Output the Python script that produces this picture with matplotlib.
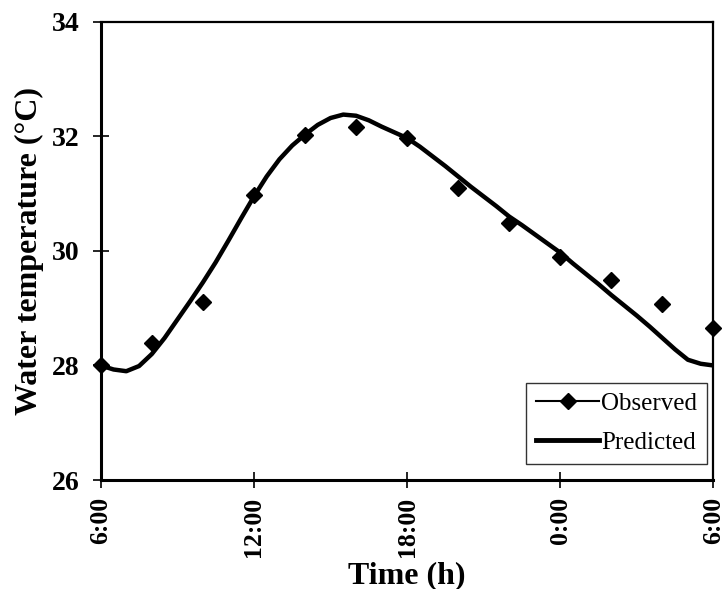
#!/usr/bin/env python3
"""Diurnal water temperature: observed vs predicted over 24 h."""

import matplotlib
matplotlib.use('Agg')
import matplotlib.pyplot as plt
from matplotlib.lines import Line2D

plt.rcParams['font.family'] = 'Liberation Serif'
plt.rcParams['mathtext.fontset'] = 'stix'

# Hours elapsed since 6:00
OBS_HOURS = [0, 2, 4, 6, 8, 10, 12, 14, 16, 18, 20, 22, 24]
OBS_TEMP = [28.0, 28.4, 29.1, 30.97, 32.03, 32.16, 31.97,
            31.1, 30.48, 29.9, 29.5, 29.08, 28.66]

# Model output, half-hourly
PRED_HOURS = [0, 0.5, 1, 1.5, 2, 2.5, 3, 3.5, 4, 4.5, 5, 5.5, 6, 6.5,
              7, 7.5, 8, 8.5, 9, 9.5, 10, 10.5, 11, 11.5, 12, 12.5, 13,
              13.5, 14, 14.5, 15, 15.5, 16, 16.5, 17, 17.5, 18, 18.5,
              19, 19.5, 20, 20.5, 21, 21.5, 22, 22.5, 23, 23.5, 24]
PRED_TEMP = [28.00, 27.93, 27.90, 27.99, 28.20, 28.48, 28.80, 29.12,
             29.45, 29.80, 30.18, 30.57, 30.95, 31.30, 31.60, 31.84,
             32.03, 32.20, 32.32, 32.38, 32.36, 32.28, 32.17, 32.07,
             31.97, 31.82, 31.65, 31.48, 31.30, 31.12, 30.95, 30.78,
             30.60, 30.45, 30.29, 30.13, 29.97, 29.78, 29.60, 29.42,
             29.23, 29.05, 28.87, 28.68, 28.48, 28.28, 28.10, 28.03,
             28.00]

TICK_HOURS = [0, 6, 12, 18, 24]
TICK_LABELS = ['6:00', '12:00', '18:00', '0:00', '6:00']
Y_TICKS = [26, 28, 30, 32, 34]


def main():
    fig = plt.figure(figsize=(7.25, 5.89), dpi=100)
    ax = fig.add_axes([0.139, 0.185, 0.845, 0.778])

    ax.plot(PRED_HOURS, PRED_TEMP, color='black', linewidth=3.2,
            solid_capstyle='round', solid_joinstyle='round', zorder=2)
    ax.plot(OBS_HOURS, OBS_TEMP, linestyle='none', marker='D',
            markersize=8.5, color='black', zorder=3, clip_on=False)

    ax.set_xlim(0, 24)
    ax.set_ylim(26, 34)
    ax.set_xticks(TICK_HOURS)
    ax.set_xticklabels(TICK_LABELS, rotation=90, fontsize=18.5,
                       fontweight='bold')
    ax.set_yticks(Y_TICKS)
    ax.set_yticklabels([str(v) for v in Y_TICKS], fontsize=20,
                       fontweight='bold')
    ax.tick_params(direction='inout', length=12, width=1.2)
    ax.tick_params(axis='y', pad=9)
    ax.tick_params(axis='x', pad=6)

    for side in ('left', 'bottom'):
        ax.spines[side].set_linewidth(2.2)
    for side in ('top', 'right'):
        ax.spines[side].set_linewidth(1.6)

    ax.set_xlabel('Time (h)', fontsize=23, fontweight='bold', labelpad=3)
    ax.set_ylabel('Water temperature (°C)', fontsize=23, fontweight='bold',
                  labelpad=6)

    handles = [
        Line2D([], [], color='black', linewidth=1.5, marker='D',
               markersize=8),
        Line2D([], [], color='black', linewidth=3.5),
    ]
    leg = ax.legend(handles, ['Observed', 'Predicted'], loc='lower right',
                    bbox_to_anchor=(0.99, 0.035), fontsize=18,
                    frameon=True, fancybox=False, edgecolor='black',
                    handlelength=2.5, handletextpad=0.1, borderpad=0.4,
                    labelspacing=0.65, borderaxespad=0)
    leg.get_frame().set_linewidth(1.0)

    fig.savefig('out.png', dpi=100, facecolor='white')
    plt.close(fig)


if __name__ == '__main__':
    main()
